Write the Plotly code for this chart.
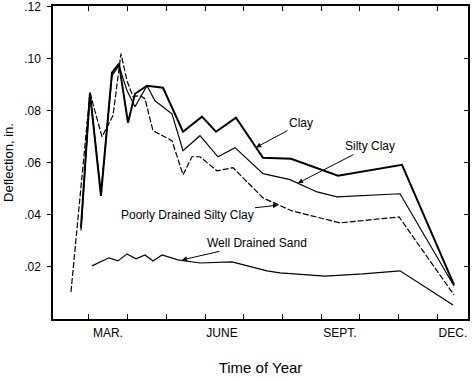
import plotly.graph_objects as go

# x in months: 1 = Mar 1, 4 = Jun 1, 7 = Sep 1, 10 = Dec 1
clay_x = [0.793, 1.026, 1.31, 1.595, 1.776, 2.009, 2.19, 2.5, 2.914, 3.431, 3.922, 4.284, 4.801, 5.5, 6.224, 7.439, 9.094, 10.439]
clay_y = [0.035, 0.0869, 0.0473, 0.0946, 0.0981, 0.0754, 0.0865, 0.0896, 0.0888, 0.0719, 0.0777, 0.0719, 0.0773, 0.0619, 0.0615, 0.0550, 0.0592, 0.0131]

silty_x = [0.793, 1.026, 1.31, 1.595, 1.776, 1.983, 2.19, 2.5, 2.707, 3.146, 3.431, 3.87, 4.336, 4.776, 5.5, 6.198, 6.896, 7.413, 9.042, 10.439]
silty_y = [0.034, 0.0865, 0.0485, 0.0935, 0.0973, 0.0877, 0.0815, 0.0896, 0.0838, 0.0788, 0.0646, 0.0704, 0.0623, 0.0658, 0.0558, 0.0535, 0.0488, 0.0469, 0.0481, 0.0127]

poor_x = [0.535, 1.026, 1.336, 1.491, 1.621, 1.828, 1.983, 2.138, 2.319, 2.448, 2.655, 3.146, 3.431, 3.664, 3.87, 4.31, 4.724, 5.5, 6.25, 7.491, 9.017, 10.439]
poor_y = [0.0104, 0.0869, 0.070, 0.0742, 0.0781, 0.1019, 0.0915, 0.0854, 0.0858, 0.0846, 0.0723, 0.0685, 0.0554, 0.0623, 0.0623, 0.0569, 0.0581, 0.0465, 0.0415, 0.0369, 0.0392, 0.0092]

sand_x = [1.078, 1.517, 1.75, 1.983, 2.215, 2.448, 2.655, 2.888, 3.302, 3.87, 4.698, 5.603, 5.939, 7.103, 8.086, 9.042, 10.413]
sand_y = [0.0204, 0.0235, 0.0223, 0.025, 0.0231, 0.0246, 0.0223, 0.0246, 0.0227, 0.0215, 0.0219, 0.0185, 0.0177, 0.0165, 0.0173, 0.0185, 0.0054]

month_pos = [1.49, 4.44, 7.49, 10.41]
month_labels = ["MAR.", "JUNE", "SEPT.", "DEC."]
month_ticks = [1, 2, 3, 4, 5, 6, 7, 8, 9, 10]
y_ticks = [0.02, 0.04, 0.06, 0.08, 0.10, 0.12]
y_labels = [".02", ".04", ".06", ".08", ".10", ".12"]

FONT = "Liberation Sans, Arial, Helvetica, sans-serif"
XR = [0.07, 10.8]
YR = [0, 0.1202]

fig = go.Figure()
fig.add_trace(go.Scatter(x=sand_x, y=sand_y, mode="lines", line=dict(color="black", width=1.2), name="Well Drained Sand"))
fig.add_trace(go.Scatter(x=poor_x, y=poor_y, mode="lines", line=dict(color="black", width=1.2, dash="6px,2px"), name="Poorly Drained Silty Clay"))
fig.add_trace(go.Scatter(x=silty_x, y=silty_y, mode="lines", line=dict(color="black", width=1.2), name="Silty Clay"))
fig.add_trace(go.Scatter(x=clay_x, y=clay_y, mode="lines", line=dict(color="black", width=2), name="Clay"))

ann_font = dict(family=FONT, size=12, color="black")
def arrow(text, x, y, ax, ay):
    fig.add_annotation(x=x, y=y, text=text, ax=ax, ay=ay, showarrow=True,
                       arrowhead=2, arrowsize=1, arrowwidth=1, arrowcolor="black",
                       font=ann_font, standoff=0)

arrow("Clay", 5.319, 0.0659, 45, -24)
arrow("Silty Clay", 6.405, 0.0522, 72, -37)
arrow("Poorly Drained Silty Clay", 5.888, 0.0437, -91, 10)
arrow("Well Drained Sand", 3.405, 0.0227, 75, -17)

fig.update_layout(
    width=474, height=382,
    margin=dict(l=53, r=6, t=6, b=63),
    paper_bgcolor="white", plot_bgcolor="white",
    showlegend=False,
    font=dict(family=FONT, size=12, color="black"),
    xaxis=dict(range=XR, tickmode="array", tickvals=month_pos, ticktext=month_labels,
               ticks="", showgrid=False, zeroline=False, showline=True, linecolor="black",
               linewidth=1.5, mirror=True, tickfont=dict(size=12), automargin=False,
               ticklabelstandoff=2, ticklabeloverflow="allow",
               minor=dict(tickmode="array", tickvals=month_ticks, ticks="inside", ticklen=5,
                          tickcolor="black", tickwidth=1, showgrid=False),
               title=dict(text="Time of Year", font=dict(size=15), standoff=23)),
    yaxis=dict(range=YR, tickmode="array", tickvals=y_ticks, ticktext=y_labels,
               ticks="outside", ticklen=4, tickcolor="black", showgrid=False, zeroline=False,
               showline=True, linecolor="black", linewidth=1.5, mirror=True,
               tickfont=dict(size=12), automargin=False, ticklabelstandoff=4,
               ticklabeloverflow="allow",
               title=dict(text="Deflection, in.", font=dict(size=13), standoff=8)),
    xaxis2=dict(range=XR, overlaying="x", side="top", tickmode="array", tickvals=month_ticks,
                ticks="inside", ticklen=5, tickcolor="black", showticklabels=False,
                showgrid=False, zeroline=False, showline=False, automargin=False),
    yaxis2=dict(range=YR, overlaying="y", side="right", tickmode="array", tickvals=y_ticks[:-1],
                ticks="inside", ticklen=4, tickcolor="black", showticklabels=False,
                showgrid=False, zeroline=False, showline=False, automargin=False),
)
# invisible trace to activate the mirror axes
fig.add_trace(go.Scatter(x=[XR[0]], y=[YR[0]], xaxis="x2", yaxis="y2", mode="markers",
                         marker=dict(opacity=0), hoverinfo="skip", showlegend=False))

fig.write_html("out.html", config={"displayModeBar": False},
               post_script="document.body.style.margin='0';document.body.style.overflow='hidden';")
